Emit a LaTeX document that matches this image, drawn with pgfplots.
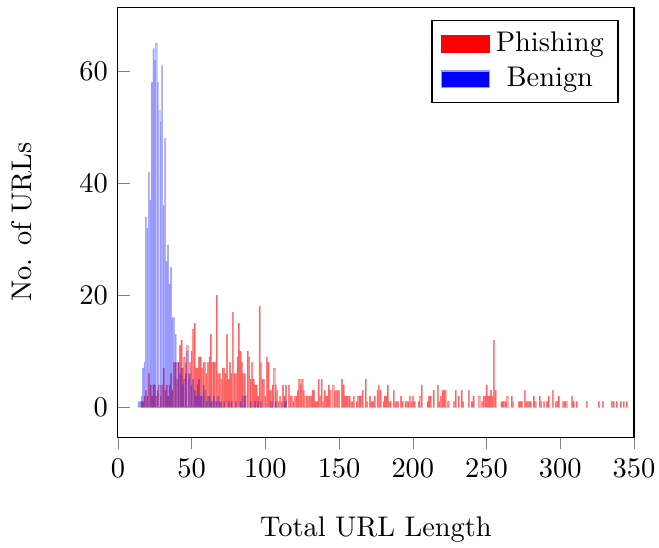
\documentclass[border=0pt]{standalone}
\usepackage{pgfplots}
\pgfplotsset{compat=1.18}
\begin{document}
\begin{tikzpicture}
\begin{axis}[
  scale only axis,
  width=181.7pt, height=151.4pt,
  xmin=0, xmax=350, ymin=-5.36, ymax=71.43,
  xtick={0,50,...,350}, ytick={0,20,40,60},
  xtick align=outside, ytick align=inside,
  tick pos=left,
  xlabel={Total URL Length},
  ylabel={No. of URLs},
  every axis x label/.style={at={(axis description cs:0.5,-0.216)}, anchor=center},
  every axis y label/.style={at={(axis description cs:-0.186,0.5)}, rotate=90, anchor=center},
  legend cell align=center,
  legend pos=north east,
]
\addlegendimage{area legend, fill=red, draw=red}
\addlegendentry{Phishing}
\addlegendimage{area legend, fill=blue, draw=blue!40}
\addlegendentry{Benign}
\addplot[ybar, bar shift=0pt, bar width=0.75, fill=red, fill opacity=0.45, draw=red, draw opacity=0.3, line width=0.15pt, forget plot] coordinates {
(16,1)(17,1)(18,2)(19,3)(20,2)(21,6)(22,4)(23,2)(24,4)(25,4)(26,2)(27,3)(28,4)(29,2)(30,4)(31,7)(32,3)(33,4)(34,2)(35,4)(36,6)(37,3)(38,8)(39,8)(40,5)(41,8)(42,11)(43,12)(44,7)(45,9)(46,8)(47,11)(48,6)(49,8)(50,10)(51,14)(52,15)(53,7)(54,7)(55,9)(56,9)(57,7)(58,8)(59,8)(60,6)(61,8)(62,9)(63,13)(64,8)(65,8)(66,8)(67,20)(68,6)(69,6)(70,5)(71,7)(72,7)(73,6)(74,13)(75,5)(76,8)(77,6)(78,17)(79,6)(80,6)(81,9)(82,15)(83,10)(84,8)(85,6)(86,6)(87,2)(88,10)(89,9)(90,5)(91,8)(92,5)(93,4)(94,4)(95,2)(96,18)(97,8)(98,5)(99,5)(100,2)(101,9)(102,8)(103,3)(104,3)(105,4)(106,7)(107,4)(108,3)(109,1)(110,2)(111,1)(112,4)(113,2)(114,4)(116,4)(117,2)(118,2)(119,1)(120,2)(121,2)(122,3)(123,5)(124,4)(125,5)(126,3)(127,2)(128,2)(129,2)(130,2)(131,2)(132,3)(133,3)(134,1)(135,1)(136,5)(137,2)(138,5)(139,1)(140,3)(141,2)(142,2)(143,4)(144,3)(146,4)(147,3)(148,3)(149,3)(150,3)(152,5)(153,4)(154,2)(155,2)(156,2)(157,2)(158,1)(159,1)(160,2)(162,1)(163,2)(164,2)(165,2)(166,3)(168,5)(169,1)(171,2)(172,1)(173,1)(174,2)(176,3)(177,4)(178,3)(180,1)(181,2)(182,2)(183,4)(184,1)(185,1)(187,3)(188,1)(189,1)(190,1)(192,2)(193,1)(195,1)(196,1)(197,1)(198,2)(199,1)(200,2)(201,1)(204,1)(205,2)(206,4)(210,1)(211,2)(212,2)(214,3)(217,4)(218,1)(219,2)(220,3)(221,3)(222,3)(224,1)(228,1)(229,3)(231,2)(233,3)(234,1)(238,3)(240,1)(241,2)(245,2)(247,1)(248,2)(249,2)(250,4)(251,2)(252,2)(253,3)(254,2)(255,12)(256,3)(260,1)(261,1)(262,1)(263,1)(264,2)(267,2)(268,1)(272,1)(273,1)(274,1)(276,3)(277,1)(278,1)(279,1)(280,1)(282,2)(283,1)(286,2)(287,1)(289,1)(291,1)(292,2)(295,3)(297,1)(298,1)(299,2)(302,1)(303,1)(304,1)(308,2)(309,1)(311,1)(318,1)(326,1)(329,1)(335,1)(336,1)(338,1)(341,1)(343,1)(345,1)
};
\addplot[ybar, bar shift=0pt, bar width=0.75, fill=blue, fill opacity=0.25, draw=blue, draw opacity=0.2, line width=0.15pt, forget plot] coordinates {
(14,1)(15,1)(16,2)(17,7)(18,8)(19,34)(20,32)(21,42)(22,37)(23,58)(24,64)(25,62)(26,65)(27,58)(28,53)(29,51)(30,61)(31,36)(32,48)(33,26)(34,29)(35,22)(36,25)(37,16)(38,16)(39,13)(40,8)(41,8)(42,6)(43,7)(44,4)(45,5)(46,6)(47,10)(48,5)(49,6)(50,4)(51,5)(52,3)(53,2)(54,4)(55,5)(56,2)(57,2)(58,4)(59,3)(60,1)(61,2)(62,2)(63,1)(64,1)(65,2)(66,1)(67,1)(68,2)(69,1)(70,1)(72,1)(75,1)(77,1)(80,1)(83,1)(85,2)(86,2)(90,1)(93,1)(95,1)(97,1)(104,1)(107,1)(113,1)(114,1)
};
\end{axis}
\pgfresetboundingbox
\path ([xshift=-41.5pt, yshift=-38.7pt]current axis.south west) rectangle ([xshift=8.8pt, yshift=2.5pt]current axis.north east);
\end{tikzpicture}
\end{document}
